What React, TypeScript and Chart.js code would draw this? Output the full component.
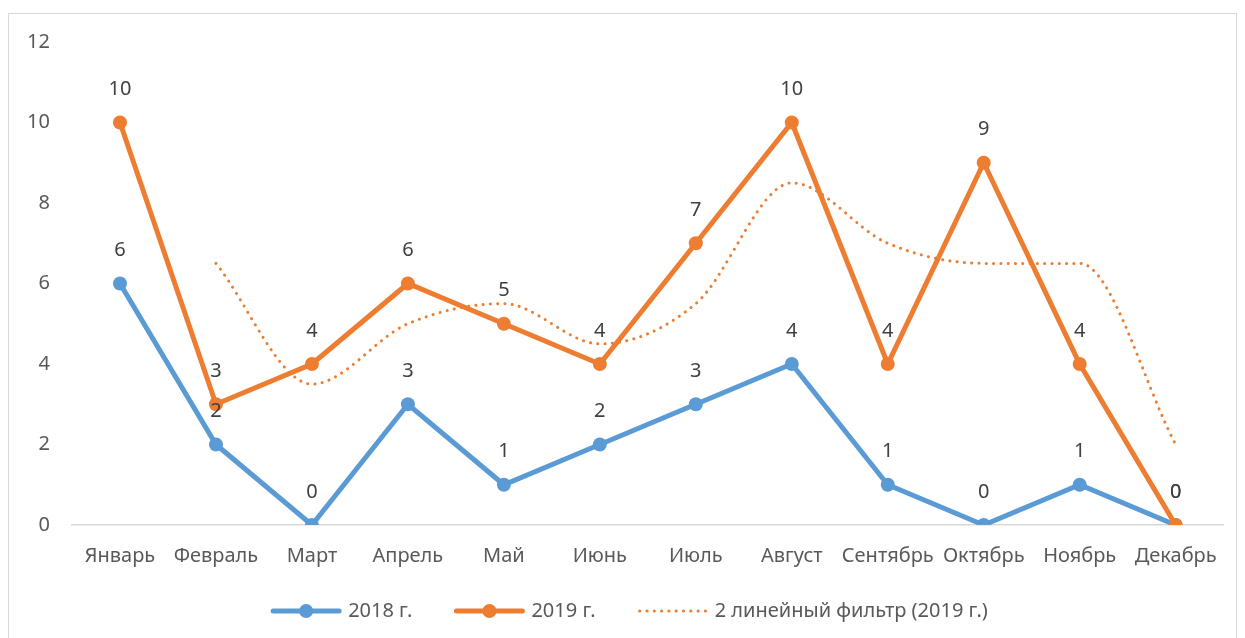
import React, { useEffect, useRef } from "react";
import { Chart, registerables } from "chart.js";

Chart.register(...registerables);

const categories = ["Январь", "Февраль", "Март", "Апрель", "Май", "Июнь", "Июль", "Август", "Сентябрь", "Октябрь", "Ноябрь", "Декабрь"];
const series2018 = [6, 2, 0, 3, 1, 2, 3, 4, 1, 0, 1, 0];
const series2019 = [10, 3, 4, 6, 5, 4, 7, 10, 4, 9, 4, 0];
const trend2019 = [null, 6.5, 3.5, 5, 5.5, 4.5, 5.5, 8.5, 7, 6.5, 6.5, 2];
const legendLabels = ["2018 г.", "2019 г.", "2 линейный фильтр (2019 г.)"];
const yTicks = [0, 2, 4, 6, 8, 10, 12];

const BLUE = "#5B9BD5";
const ORANGE = "#ED7D31";
const TEXT = "#595959";
const FONT = "'Noto Sans', 'Open Sans', sans-serif";

const dataLabelPlugin = {
  id: "dataLabels",
  afterDatasetsDraw(chart: any) {
    const ctx = chart.ctx;
    ctx.save();
    ctx.font = `20px ${FONT}`;
    ctx.fillStyle = "#404040";
    ctx.textAlign = "center";
    ctx.textBaseline = "middle";
    [0, 1].forEach((di) => {
      const meta = chart.getDatasetMeta(di);
      const data = chart.data.datasets[di].data;
      meta.data.forEach((pt: any, i: number) => {
        ctx.fillText(String(data[i]), pt.x, pt.y - 33);
      });
    });
    ctx.restore();
  },
};

// custom legend drawn under the axis
const legendPlugin = {
  id: "customLegend",
  afterDraw(chart: any) {
    const ctx = chart.ctx;
    const y = 597;
    const colors = [BLUE, ORANGE, ORANGE];
    const sampleW = 72;
    const gapText = 6;
    const gapItem = 41;
    ctx.save();
    ctx.font = `20px ${FONT}`;
    const widths = legendLabels.map((t) => ctx.measureText(t).width);
    const total = widths.reduce((a, w) => a + sampleW + gapText + w, 0) + gapItem * (legendLabels.length - 1);
    let x = (chart.width + 9) / 2 - total / 2 + 2;
    legendLabels.forEach((t, i) => {
      ctx.strokeStyle = colors[i];
      ctx.fillStyle = colors[i];
      if (i === 2) {
        for (let dx = 3; dx <= sampleW - 2; dx += 7.3) {
          ctx.beginPath();
          ctx.arc(x + dx, y, 1.6, 0, Math.PI * 2);
          ctx.fill();
        }
      } else {
        ctx.lineWidth = 5;
        ctx.lineCap = "round";
        ctx.beginPath();
        ctx.moveTo(x + 3, y);
        ctx.lineTo(x + sampleW - 3, y);
        ctx.stroke();
        ctx.beginPath();
        ctx.arc(x + sampleW / 2, y, 7, 0, Math.PI * 2);
        ctx.fill();
      }
      ctx.fillStyle = TEXT;
      ctx.textAlign = "left";
      ctx.textBaseline = "middle";
      ctx.fillText(t, x + sampleW + gapText, y);
      x += sampleW + gapText + widths[i] + gapItem;
    });
    ctx.restore();
  },
};

export default function App() {
  const ref = useRef<HTMLCanvasElement | null>(null);
  useEffect(() => {
    document.body.style.overflow = "hidden";
    const chart = new Chart(ref.current!, {
      type: "line",
      data: {
        labels: categories,
        datasets: [
          {
            label: legendLabels[0],
            data: series2018,
            borderColor: BLUE,
            backgroundColor: BLUE,
            borderWidth: 5,
            pointRadius: 7,
            pointBorderWidth: 0,
            pointBackgroundColor: BLUE,
            order: 3,
          },
          {
            label: legendLabels[1],
            data: series2019,
            borderColor: ORANGE,
            backgroundColor: ORANGE,
            borderWidth: 5,
            pointRadius: 7,
            pointBorderWidth: 0,
            pointBackgroundColor: ORANGE,
            order: 2,
          },
          {
            label: legendLabels[2],
            data: trend2019 as any,
            borderColor: ORANGE,
            borderWidth: 3,
            borderDash: [0.1, 7.2],
            borderCapStyle: "round",
            pointRadius: 0,
            cubicInterpolationMode: "monotone",
            spanGaps: false,
            order: 1,
          },
        ],
      },
      options: {
        responsive: false,
        animation: false,
        layout: { padding: { top: 28, right: 9, left: 0, bottom: 63 } },
        plugins: {
          tooltip: { enabled: false },
          legend: { display: false },
        },
        scales: {
          x: {
            offset: true,
            grid: { display: true, color: "transparent", drawTicks: false },
            border: { display: true, color: "#D9D9D9", width: 1.5 },
            ticks: { color: TEXT, font: { family: FONT, size: 20 }, padding: 19, maxRotation: 0, autoSkip: false },
            afterFit: (s: any) => {
              s.height = 50;
            },
          },
          y: {
            min: 0,
            max: 12,
            grid: { display: false, drawTicks: false },
            border: { display: false },
            afterBuildTicks: (s: any) => {
              s.ticks = yTicks.map((v) => ({ value: v }));
            },
            ticks: { color: TEXT, font: { family: FONT, size: 20 }, padding: 22 },
            afterFit: (s: any) => {
              s.width = 63;
              s.paddingTop = 0;
              s.paddingBottom = 0;
            },
          },
        },
      },
      plugins: [dataLabelPlugin, legendPlugin],
    });
    return () => chart.destroy();
  }, []);
  return (
    <div style={{ paddingTop: 5 }}>
      <div style={{ border: "1px solid #D9D9D9", height: 660, overflow: "hidden", background: "#fff" }}>
        <canvas ref={ref} width={1227} height={624} style={{ display: "block" }} />
      </div>
    </div>
  );
}
